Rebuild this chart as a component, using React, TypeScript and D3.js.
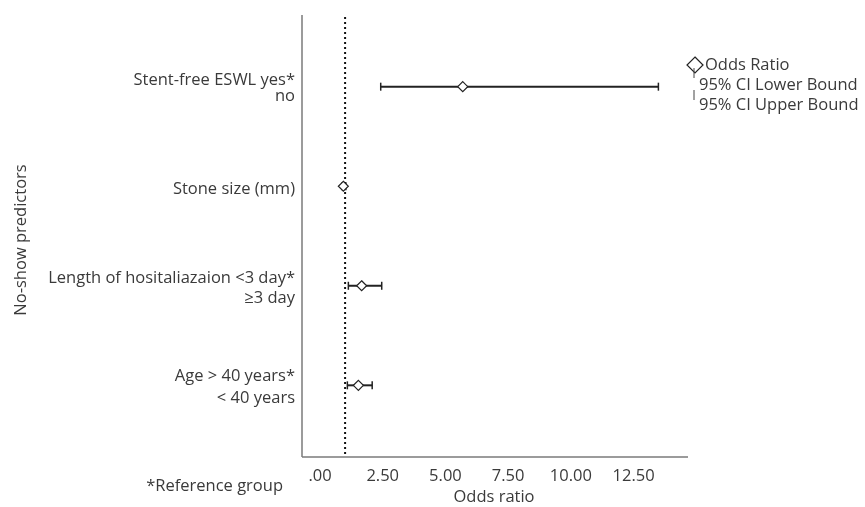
import * as d3 from 'd3';
import { useEffect, useRef } from 'react';

// predictors, top to bottom
const predictors = ['stent', 'stone', 'length', 'age'];
const labelLines = [
    ['Stent-free ESWL yes*', 'no'],
    ['Stone size (mm)'],
    ['Length of hositaliazaion <3 day*', '\u22653 day'],
    ['Age > 40 years*', '< 40 years'],
];
const oddsRatio = [5.69, 0.93, 1.66, 1.53];
const ciLower = [2.42, 0.88, 1.13, 1.09];
const ciUpper = [13.49, 1.03, 2.46, 2.08];

const xTicks = [0, 2.5, 5, 7.5, 10, 12.5];
const xTickLabels = ['.00', '2.50', '5.00', '7.50', '10.00', '12.50'];
const legendLabels = ['Odds Ratio', '95% CI Lower Bound', '95% CI Upper Bound'];

const width = 865;
const height = 507;
const font = '"Open Sans", sans-serif';
const fontSize = 16.5;
const textColor = '#3a3a3a';

// baseline offsets of label lines from the row centre
const lineOffsets = [[-2, 14], [7.5], [-3, 17.5], [-4, 17.5]];

const App = () => {
    const svgRef = useRef<SVGSVGElement>(null);

    useEffect(() => {
        const svg = d3.select(svgRef.current)
            .attr('width', width)
            .attr('height', height)
            .style('position', 'fixed')
            .style('left', 0)
            .style('top', 0)
            .style('font-family', font);

        svg.selectAll('*').remove();

        const left = 302, right = 688, top = 15, bottom = 457;

        const x = d3.scaleLinear()
            .domain([-0.718, 14.67])
            .range([left, right]);

        const y = d3.scalePoint()
            .domain(predictors)
            .range([top, bottom])
            .padding(0.72);

        // axes lines
        svg.append('line')
            .attr('x1', left).attr('x2', left)
            .attr('y1', top).attr('y2', bottom)
            .attr('stroke', '#7a7a7a').attr('stroke-width', 1.5);
        svg.append('line')
            .attr('x1', left).attr('x2', right)
            .attr('y1', bottom).attr('y2', bottom)
            .attr('stroke', '#7a7a7a').attr('stroke-width', 1.5);

        // reference line at OR = 1
        svg.append('line')
            .attr('x1', x(1)).attr('x2', x(1))
            .attr('y1', top + 2).attr('y2', bottom)
            .attr('stroke', '#111')
            .attr('stroke-width', 2)
            .attr('stroke-dasharray', '2,3');

        // x tick labels
        svg.selectAll('.xtick')
            .data(xTicks)
            .enter()
            .append('text')
            .attr('x', d => x(d))
            .attr('y', 481)
            .attr('text-anchor', 'middle')
            .attr('font-size', fontSize)
            .attr('fill', textColor)
            .text((d, i) => xTickLabels[i]);

        svg.append('text')
            .attr('x', 494)
            .attr('y', 502)
            .attr('text-anchor', 'middle')
            .attr('font-size', fontSize)
            .attr('fill', textColor)
            .text('Odds ratio');

        svg.append('text')
            .attr('x', 283)
            .attr('y', 491)
            .attr('text-anchor', 'end')
            .attr('font-size', fontSize)
            .attr('fill', textColor)
            .text('*Reference group');

        svg.append('text')
            .attr('transform', 'translate(26,240) rotate(-90)')
            .attr('text-anchor', 'middle')
            .attr('font-size', fontSize)
            .attr('fill', textColor)
            .text('No-show predictors');

        // category labels
        predictors.forEach((p, i) => {
            const cy = y(p)!;
            labelLines[i].forEach((line, j) => {
                svg.append('text')
                    .attr('x', 295)
                    .attr('y', cy + lineOffsets[i][j])
                    .attr('text-anchor', 'end')
                    .attr('font-size', fontSize)
                    .attr('fill', textColor)
                    .text(line);
            });
        });

        // error bars
        const rows = svg.selectAll('.row')
            .data(predictors)
            .enter()
            .append('g');

        rows.append('line')
            .attr('x1', (d, i) => x(ciLower[i]))
            .attr('x2', (d, i) => x(ciUpper[i]))
            .attr('y1', d => y(d)!)
            .attr('y2', d => y(d)!)
            .attr('stroke', '#222').attr('stroke-width', 2);
        [ciLower, ciUpper].forEach(bound => {
            rows.append('line')
                .attr('x1', (d, i) => x(bound[i]))
                .attr('x2', (d, i) => x(bound[i]))
                .attr('y1', d => y(d)! - 4)
                .attr('y2', d => y(d)! + 4)
                .attr('stroke', '#222').attr('stroke-width', 1.5);
        });

        const diamond = (cx: number, cy: number, r: number) =>
            `M${cx},${cy - r}L${cx + r},${cy}L${cx},${cy + r}L${cx - r},${cy}Z`;

        rows.append('path')
            .attr('d', (d, i) => diamond(x(oddsRatio[i]), y(d)!, 5))
            .attr('fill', 'white')
            .attr('stroke', '#222')
            .attr('stroke-width', 1.2);

        // legend
        const lg = svg.append('g');
        lg.append('path')
            .attr('d', diamond(695, 65, 8))
            .attr('fill', 'white')
            .attr('stroke', '#222')
            .attr('stroke-width', 1.2);
        [78, 100].forEach(ly => {
            lg.append('line')
                .attr('x1', 694).attr('x2', 694)
                .attr('y1', ly - 10).attr('y2', ly)
                .attr('stroke', '#444').attr('stroke-width', 1);
        });
        legendLabels.forEach((t, i) => {
            lg.append('text')
                .attr('x', i === 0 ? 705 : 699)
                .attr('y', 70 + i * 20)
                .attr('font-size', fontSize)
                .attr('fill', textColor)
                .text(t);
        });
    }, []);

    return (
        <div>
            <svg ref={svgRef} />
        </div>
    );
};

export default App;
